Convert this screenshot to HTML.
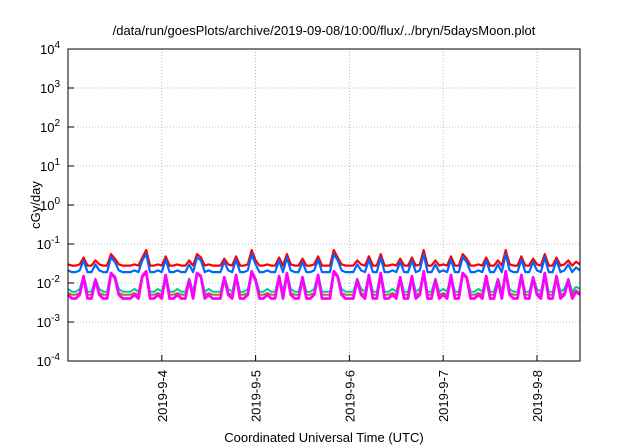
<!DOCTYPE html>
<html><head><meta charset="utf-8"><style>
body{margin:0;background:#fff;}
svg{display:block;font-family:"Liberation Sans",sans-serif;}
</style></head><body>
<svg id="chart" width="640" height="448" viewBox="0 0 640 448">
<text x="324" y="35" font-size="13" text-anchor="middle">/data/run/goesPlots/archive/2019-09-08/10:00/flux/../bryn/5daysMoon.plot</text>
<text transform="translate(40,205) rotate(-90)" font-size="13" text-anchor="middle">cGy/day</text>
<text x="324" y="442" font-size="13" text-anchor="middle">Coordinated Universal Time (UTC)</text>
<g id="grid"></g><g id="series"></g><g id="axes"></g>
</svg>
<script>
const yExps=[-4,-3,-2,-1,0,1,2,3,4];
const xTickLabels=["2019-9-4","2019-9-5","2019-9-6","2019-9-7","2019-9-8"];
const xTickDays=[1,2,3,4,5];
const magenta=[5,4,4,5,15,4,4,12,5,4,4,18,14,5,4,4,4,5,4,15,20,4,4,5,
4,16,4,4,5,4,4,12,4,18,15,4,5,4,4,4,14,5,4,16,4,4,5,20,
12,4,4,5,4,4,15,4,18,5,4,4,14,4,4,5,16,4,4,4,20,15,5,4,
4,4,12,5,4,16,4,4,18,4,4,5,4,14,4,4,15,4,5,20,4,4,12,4,
5,4,16,4,4,18,14,4,4,5,4,15,4,4,12,4,20,5,4,4,16,4,4,14,
5,4,18,4,4,15,4,5,12,4,6,5];
const brown=[5.5,5,5,5.5,14,5,5,11,5.5,5,5,17,13,5.5,5,5,5,5.5,5,14,18,5,5,5.5,
5,15,5,5,5.5,5,5,11,5,17,14,5,5.5,5,5,5,13,5.5,5,15,5,5,5.5,18,
11,5,5,5.5,5,5,14,5,17,5.5,5,5,13,5,5,5.5,15,5,5,5,18,14,5.5,5,
5,5,11,5.5,5,15,5,5,17,5,5,5.5,5,13,5,5,14,5,5.5,18,5,5,11,5,
5.5,5,15,5,5,17,13,5,5,5.5,5,14,5,5,11,5,18,5.5,5,5,15,5,5,13,
5.5,5,17,5,5,14,5,5.5,11,5,6.5,5.5];
const teal=[7,6,6,7,15,6,6,13,7,6,6,18,15,7,6,6,6,7,6,15,19,6,6,7,
6,16,6,6,7,6,6,13,6,18,15,6,7,6,6,6,14,7,6,16,6,6,7,19,
13,6,6,7,6,6,15,6,18,7,6,6,14,6,6,7,16,6,6,6,19,15,7,6,
6,6,13,7,6,16,6,6,18,6,6,7,6,14,6,6,15,6,7,19,6,6,13,6,
7,6,16,6,6,18,14,6,6,7,6,15,6,6,13,6,19,7,6,6,16,6,6,14,
7,6,18,6,6,15,6,7,13,6,8,7];
const blue=[21,19,19,21,38,19,19,30,21,19,19,45,35,21,19,19,19,21,19,38,55,19,19,21,
19,40,19,19,21,19,19,30,19,45,38,19,21,19,19,19,35,21,19,40,19,19,21,55,
30,19,19,21,19,19,38,19,45,21,19,19,35,19,19,21,40,19,19,19,55,38,21,19,
19,19,30,21,19,40,19,19,45,19,19,21,19,35,19,19,38,19,21,55,19,19,30,19,
21,19,40,19,19,45,35,19,19,21,19,38,19,19,30,19,55,21,19,19,40,19,19,35,
21,19,45,19,19,38,19,21,30,19,25,21];
const red=[30,28,28,30,45,28,28,38,30,28,28,55,42,30,28,28,28,30,28,45,70,28,28,30,
28,48,28,28,30,28,28,38,28,55,45,28,30,28,28,28,42,30,28,48,28,28,30,70,
38,28,28,30,28,28,45,28,55,30,28,28,42,28,28,30,48,28,28,28,70,45,30,28,
28,28,38,30,28,48,28,28,55,28,28,30,28,42,28,28,45,28,30,70,28,28,38,28,
30,28,48,28,28,55,42,28,28,30,28,45,28,28,38,28,70,30,28,28,48,28,28,42,
30,28,55,28,28,45,28,30,38,28,35,30];
const L=68,R=580,T=49,B=361,hoursSpan=131;
const xs=h=>L+(h/hoursSpan)*(R-L);
const ys=v=>B-(Math.log10(v)+4)/8*(B-T);
const NS="http://www.w3.org/2000/svg";
function mk(tag,attrs,parent){const e=document.createElementNS(NS,tag);for(const k in attrs)e.setAttribute(k,attrs[k]);parent.appendChild(e);return e;}
const grid=document.getElementById('grid'),axes=document.getElementById('axes'),ser=document.getElementById('series');
yExps.forEach(e=>{const y=ys(Math.pow(10,e));
 if(e>-4&&e<4){const g=mk('line',{x1:L,x2:R,y1:y,y2:y,stroke:'#aaa','stroke-width':0.8,'stroke-dasharray':'1,2'},grid);
 
 }
 const t=mk('line',{x1:L,x2:L+6,y1:y,y2:y,stroke:'#000'},axes);
 
 
 const tx=mk('text',{x:L-8,y:y+5,'font-size':13,'text-anchor':'end'},axes);
 
 
 tx.innerHTML='10<tspan dy="-6" font-size="10">'+e+'</tspan>';
});
xTickDays.forEach((d,i)=>{const x=xs(d*24);
 const g=mk('line',{x1:x,x2:x,y1:T,y2:B,stroke:'#aaa','stroke-width':0.8,'stroke-dasharray':'1,2'},grid);
 
 
 const t=mk('line',{x1:x,x2:x,y1:B,y2:B-6,stroke:'#000'},axes);
 
 
 const tx=mk('text',{transform:`translate(${x+5},370) rotate(-90)`,'font-size':13,'text-anchor':'end'},axes);
 
 
 tx.textContent=xTickLabels[i];
});
const fr=mk('rect',{x:L,y:T,width:R-L,height:B-T,fill:'none',stroke:'#000','stroke-width':1},axes);


const seriesList=[[red,'#ff0000',2.2,'series-red'],[blue,'#0066ff',2.2,'series-blue'],[teal,'#00c8a0',2,'series-teal'],[brown,'#b07020',2,'series-brown'],[magenta,'#ff00ff',2.8,'series-magenta']];
seriesList.forEach(([arr,col,w,name])=>{
 const pts=arr.map((v,i)=>xs(i).toFixed(1)+','+ys(v*1e-3).toFixed(1)).join(' ');
 const p=mk('polyline',{points:pts,fill:'none',stroke:col,'stroke-width':w,'stroke-linejoin':'round'},ser);
 
 
});
</script>
</body></html>
